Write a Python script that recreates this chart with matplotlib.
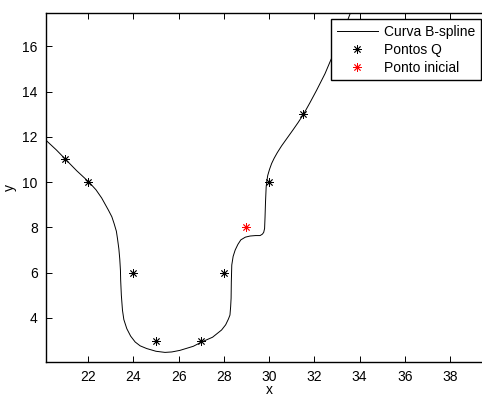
import numpy as np
import matplotlib
matplotlib.use("Agg")
import matplotlib.pyplot as plt

plt.rcParams['font.family'] = ['Liberation Sans', 'DejaVu Sans']

# B-spline curve
curve_x = [20.0, 20.17, 20.6, 21.01, 21.5, 22.04, 22.35, 22.6, 22.9, 23.05, 23.15,
           23.25, 23.3, 23.36, 23.4, 23.43, 23.44, 23.47, 23.52, 23.58, 23.71, 23.88,
           24.08, 24.3, 24.59, 25.0, 25.4, 25.7, 26.06, 26.65, 27.02, 27.5, 27.9,
           28.08, 28.2, 28.27, 28.3, 28.32, 28.33, 28.35, 28.41, 28.5, 28.62, 28.75,
           28.95, 29.16, 29.4, 29.6, 29.7, 29.76, 29.8, 29.82, 29.84, 29.87, 29.9,
           29.94, 30.02, 30.11, 30.22, 30.36, 30.55, 30.8, 31.05, 31.28, 31.51, 31.8, 32.1,
           32.47, 32.69, 33.0, 33.3, 33.58, 33.7]
curve_y = [11.93, 11.82, 11.42, 11.0, 10.5, 10.0, 9.66, 9.3, 8.76, 8.47, 8.17,
           7.83, 7.5, 7.05, 6.6, 6.1, 5.66, 5.0, 4.34, 3.93, 3.53, 3.2,
           2.94, 2.77, 2.65, 2.53, 2.48, 2.5, 2.57, 2.75, 2.94, 3.15, 3.47,
           3.7, 3.95, 4.13, 4.5, 4.87, 5.6, 6.34, 6.72, 7.0, 7.25, 7.45,
           7.57, 7.62, 7.64, 7.64, 7.7, 7.78, 7.95, 8.46, 9.1, 9.79, 10.05,
           10.3, 10.57, 10.82, 11.05, 11.3, 11.6, 11.95, 12.3, 12.63, 12.98, 13.5, 14.06,
           14.79, 15.31, 16.0, 16.7, 17.44, 17.7]

# points Q
q_x = [21, 22, 24, 25, 27, 28, 30, 31.5]
q_y = [11, 10, 6, 3, 3, 6, 10, 13]

# starting point
start_x = [29]
start_y = [8]

fig = plt.figure(figsize=(4.82, 3.96), dpi=100)
ax = fig.add_axes([46 / 482, 34 / 396, (492 - 46) / 482, (362 - 13) / 396])

ast = (8, 2, 0)
ax.plot(curve_x, curve_y, color='black', lw=0.7, label='Curva B-spline')
ax.plot(q_x, q_y, ls='none', marker=ast, ms=6, mew=0.6, color='black', label='Pontos Q')
ax.plot(start_x, start_y, ls='none', marker=ast, ms=6, mew=0.6, color='red', label='Ponto inicial')

ax.set_xlim(20.14, 39.85)
ax.set_ylim(2.056, 17.47)
ax.set_xticks(np.arange(22, 39, 2))
ax.set_yticks(np.arange(4, 17, 2))
ax.tick_params(direction='in', length=4, width=0.7, labelsize=10, top=True, right=True, pad=6)
for s in ax.spines.values():
    s.set_linewidth(1.0)
ax.set_xlabel('x', fontsize=10, labelpad=-1)
ax.set_ylabel('y', fontsize=10, labelpad=4)

leg = ax.legend(loc='upper left', bbox_to_anchor=(331 / 482, 1 - 19 / 396),
                bbox_transform=fig.transFigure, borderaxespad=0, fontsize=10,
                handlelength=3, handletextpad=0.45, borderpad=0.4, labelspacing=0.3,
                fancybox=False, framealpha=1, edgecolor='black')
leg.get_frame().set_linewidth(1.0)

fig.savefig('out.png', dpi=100)
